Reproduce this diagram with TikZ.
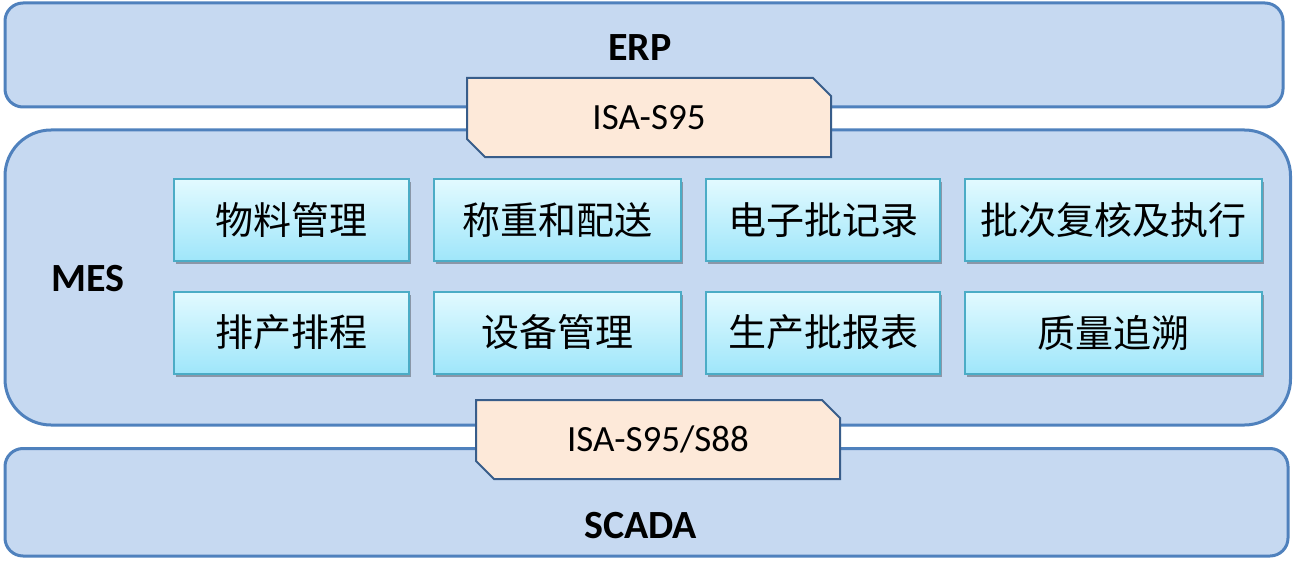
\documentclass[tikz,border=0pt]{standalone}
\usepackage{fontspec}
\setmainfont{Carlito}
\newfontfamily\cjk{Noto Sans CJK SC}
\usetikzlibrary{shadows}
\definecolor{layerfill}{HTML}{C6D9F1}
\definecolor{layerline}{HTML}{4F81BD}
\definecolor{isafill}{HTML}{FDE9D9}
\definecolor{isaline}{HTML}{385D8A}
\definecolor{modline}{HTML}{4BACC6}
\definecolor{modtop}{HTML}{E2FAFF}
\definecolor{modbot}{HTML}{9FE6FA}
\tikzset{
  layer/.style={draw=layerline,fill=layerfill,line width=3pt},
  layertext/.style={font=\fontsize{40}{44}\selectfont\bfseries,inner sep=0pt},
  modbox/.style={draw=modline,line width=2pt,top color=modtop,bottom color=modbot,
    minimum height=82pt,inner sep=0pt,
    font=\fontsize{38}{40}\selectfont\cjk,
    drop shadow={shadow xshift=2pt,shadow yshift=-3pt,fill=black,opacity=0.3}},
  isashape/.style={draw=isaline,fill=isafill,line width=2pt,line join=miter},
  isatext/.style={inner sep=0pt,font=\fontsize{37}{40}\selectfont}
}
% snipped box: centre x, centre y (half width 182, half height 39.5, snip 18)
\newcommand{\snipbox}[2]{%
  \draw[isashape] (#1-182,#2-39.5) -- (#1+164,#2-39.5) -- (#1+182,#2-21.5)
    -- (#1+182,#2+39.5) -- (#1-164,#2+39.5) -- (#1-182,#2+21.5) -- cycle;}
\begin{document}
\begin{tikzpicture}[x=1pt,y=-1pt]
\useasboundingbox (0,0) rectangle (1295,575);
% layers
\draw[layer,rounded corners=18pt] (5,3) rectangle (1283,107);
\draw[layer,rounded corners=46pt] (5,130) rectangle (1290.5,425);
\draw[layer,rounded corners=18pt] (5,448.5) rectangle (1288,556);
\node[layertext] (erp) at (640,47.5) {ERP};
\node[layertext] (mes) at (88,278.5) {MES};
\node[layertext] (scada) at (640.5,525.5) {SCADA};
% modules
\node[modbox,minimum width=235pt] (m11) at (291.5,220) {物料管理};
\node[modbox,minimum width=247pt] (m12) at (557.5,220) {称重和配送};
\node[modbox,minimum width=234pt] (m13) at (823,220) {电子批记录};
\node[modbox,minimum width=297pt] (m14) at (1113.5,220) {批次复核及执行};
\node[modbox,minimum width=235pt] (m21) at (291.5,332.5) {排产排程};
\node[modbox,minimum width=247pt] (m22) at (557.5,332.5) {设备管理};
\node[modbox,minimum width=234pt] (m23) at (823,332.5) {生产批报表};
\node[modbox,minimum width=297pt] (m24) at (1113.5,332.5) {质量追溯};
% interfaces
\snipbox{649}{117.5}
\node[isatext] (isa1) at (649,117.5) {ISA-S95};
\snipbox{658}{439.5}
\node[isatext] (isa2) at (658,439.5) {ISA-S95/S88};
\end{tikzpicture}
\end{document}
